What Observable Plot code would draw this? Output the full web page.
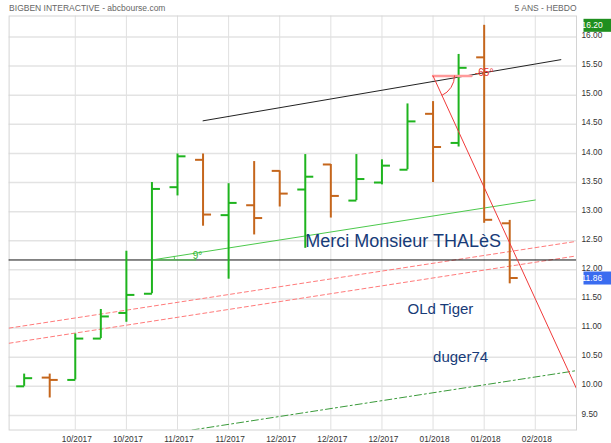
<!DOCTYPE html>
<html><head><meta charset="utf-8">
<script src="https://cdn.jsdelivr.net/npm/d3@7"></script>
<script src="https://cdn.jsdelivr.net/npm/@observablehq/plot@0.6"></script>
<style>body{margin:0;background:#fff}</style>
</head><body><div id="chart"></div>
<script>
// ---- weekly OHLC data (week ending dates) ----
const barDates = ["2017-09-22","2017-09-29","2017-10-06","2017-10-13","2017-10-20","2017-10-27","2017-11-03","2017-11-10","2017-11-17","2017-11-24","2017-12-01","2017-12-08","2017-12-15","2017-12-22","2017-12-29","2018-01-05","2018-01-12","2018-01-19","2018-01-26","2018-02-02"];
const opens  = [10.00,10.15,10.11,10.82,11.26,11.59,13.42,13.89,12.94,13.11,13.70,13.38,13.81,13.19,13.50,13.72,14.68,14.18,15.65,12.80];
const highs  = [10.21,10.21,10.90,11.32,12.32,13.50,13.99,13.99,13.48,13.86,13.70,13.98,13.81,13.98,13.89,14.85,14.89,15.70,16.20,12.85];
const lows   = [10.00, 9.80,10.11,10.82,11.10,11.59,13.27,12.75,11.84,12.60,13.08,12.37,12.89,13.19,13.46,13.72,13.50,14.11,12.80,11.76];
const closes = [10.14,10.11,10.82,11.20,11.57,13.39,13.95,12.95,13.15,12.89,13.31,13.60,13.27,13.56,13.79,14.55,14.11,15.47,12.86,11.86];

// ---- axes ----
const xDomain = ["2017-09-17T21:00Z","2018-02-20T07:00Z"];
const xTicks = ["2017-10-06","2017-10-20","2017-11-03","2017-11-17","2017-12-01","2017-12-15","2017-12-29","2018-01-12","2018-01-26","2018-02-09"];
const yDomain = [9.25, 16.36];
const yTicks = [9.5,10,10.5,11,11.5,12,12.5,13,13.5,14,14.5,15,15.5,16];
const highLabel = 16.20;
const lastLabel = 11.86;

// ---- drawn annotations (date, price) ----
const hLineValue = 12.17;
const blackTrend = [["2017-11-10",14.56],["2018-02-16",15.61]];
const redAngleLine = [["2018-01-12",15.33],["2018-02-20T07:00Z",9.96]];
const redAngleBase = [["2018-01-12",15.33],["2018-01-22T12:00Z",15.33]];
const greenAngleLine = [["2017-10-27",12.17],["2018-02-09",13.20]];
const greenAngleBase = [["2017-10-27",12.17],["2017-11-08",12.17]];
const redDashUpper = [["2017-09-17T21:00Z",11.00],["2018-02-20T07:00Z",12.49]];
const redDashLower = [["2017-09-17T21:00Z",10.74],["2018-02-20T07:00Z",12.24]];
const greenDashDot = [["2017-11-07",9.25],["2018-02-20T07:00Z",10.27]];
const angleLabels = [["2018-01-26",15.38,"-65°","#e8302a"],["2017-11-08T12:00Z",12.25,"9°","#33b833"]];
const notes = [["2017-12-08",12.50,"Merci Monsieur THALèS",18],["2018-01-05",11.33,"OLd Tiger",15],["2018-01-12",10.50,"duger74",15]];

const GREEN = "#1eb41e", ORANGE = "#c5661c";
const bars = barDates.map((d,i) => ({date: new Date(d), open: opens[i], high: highs[i], low: lows[i], close: closes[i],
  color: closes[i] >= opens[i] ? GREEN : ORANGE}));
const pts = arr => arr.map(([d,v]) => ({date: new Date(d), value: v}));

const leftTick = {draw(ctx){ ctx.moveTo(-8,0); ctx.lineTo(0,0); }};
const rightTick = {draw(ctx){ ctx.moveTo(0,0); ctx.lineTo(8,0); }};

function seg(arr, opts) {
  return Plot.line(pts(arr), {x: "date", y: "value", clip: true, ...opts});
}
function angleArc(lineArr, radius, color) {
  const [v, t] = pts(lineArr);
  return Plot.dot([v], {x: "date", y: "value", render(index, scales) {
    const cx = scales.x(v.date), cy = scales.y(v.value);
    const tx = scales.x(t.date), ty = scales.y(t.value);
    const a = Math.atan2(ty - cy, tx - cx);
    const x2 = cx + radius*Math.cos(a), y2 = cy + radius*Math.sin(a);
    const sweep = a > 0 ? 1 : 0;
    return d3.create("svg:path")
      .attr("d", `M${cx+radius},${cy}A${radius},${radius} 0 0 ${sweep} ${x2},${y2}`)
      .attr("fill","none").attr("stroke",color).attr("stroke-width",1).node();
  }});
}
function priceBox(value, bg) {
  return Plot.text([value], {
    y: d => d, text: d => d.toFixed(2), frameAnchor: "right", textAnchor: "start", dx: 5,
    fill: "white", fontSize: 8.5,
    render(index, scales, values, dimensions, context, next) {
      const g = next(index, scales, values, dimensions, context);
      const x0 = dimensions.width - dimensions.marginRight + 2;
      const y = values.y[index[0]];
      d3.select(g).insert("rect", ":first-child")
        .attr("x", x0).attr("y", y - 6.5).attr("width", 31).attr("height", 13).attr("fill", bg);
      return g;
    }
  });
}

const chart = Plot.plot({
  width: 611, height: 443,
  marginLeft: 8.6, marginRight: 35, marginTop: 15.5, marginBottom: 13.5,
  x: {type: "utc", domain: xDomain.map(d => new Date(d)), axis: null},
  y: {domain: yDomain, axis: null},
  color: {type: "identity"},
  style: {fontFamily: "'Liberation Sans', Arial, sans-serif", background: "white", overflow: "visible"},
  marks: [
    Plot.gridY(yTicks, {stroke: "#e3e3e3", strokeOpacity: 1, strokeWidth: 1.5}),
    Plot.gridX(xTicks.map(d => new Date(d)), {stroke: "#e0e0e0", strokeOpacity: 1}),
    Plot.frame({stroke: "#d4d4d4"}),
    Plot.axisY(yTicks, {anchor: "right", tickSize: 0, tickPadding: 5, dy: -1.5,
      tickFormat: d => d.toFixed(2), fontSize: 8.3, fill: "#333"}),
    Plot.axisX(xTicks.map(d => new Date(d)), {anchor: "bottom", tickSize: 0, tickPadding: 6, dx: 1.5,
      tickFormat: d3.utcFormat("%m/%Y"), fontSize: 8.3, fill: "#333"}),
    Plot.text(["BIGBEN INTERACTIVE - abcbourse.com"], {text: d => d, frameAnchor: "top-left", textAnchor: "start",
      lineAnchor: "middle", dy: -8, fontSize: 8.5, fill: "#666"}),
    Plot.text(["5 ANS - HEBDO"], {text: d => d, frameAnchor: "top-right", textAnchor: "end",
      lineAnchor: "middle", dy: -8, fontSize: 8.5, fill: "#666"}),
    // annotations
    seg(redDashUpper, {stroke: "#ff7a7a", strokeWidth: 1, strokeDasharray: "4,3"}),
    seg(redDashLower, {stroke: "#ff7a7a", strokeWidth: 1, strokeDasharray: "4,3"}),
    seg(greenDashDot, {stroke: "#3a9a3a", strokeWidth: 1, strokeDasharray: "7,3,2,3"}),
    Plot.ruleY([hLineValue], {stroke: "#111", strokeWidth: 1}),
    seg(greenAngleLine, {stroke: "#4cc94c", strokeWidth: 1}),
    seg(greenAngleBase, {stroke: "#4cc94c", strokeWidth: 1}),
    angleArc(greenAngleLine, 23, "#4cc94c"),
    seg(blackTrend, {stroke: "#222", strokeWidth: 1}),
    // OHLC bars
    Plot.ruleX(bars, {x: "date", y1: "low", y2: "high", stroke: "color", strokeWidth: 2}),
    Plot.dot(bars, {x: "date", y: "open", symbol: leftTick, stroke: "color", strokeWidth: 2, fill: "none"}),
    Plot.dot(bars, {x: "date", y: "close", symbol: rightTick, stroke: "color", strokeWidth: 2, fill: "none"}),
    // red angle tool
    seg(redAngleBase, {stroke: "#ff9a9a", strokeWidth: 2.5}),
    seg(redAngleLine, {stroke: "#f03a3a", strokeWidth: 1}),
    angleArc(redAngleLine, 22, "#f03a3a"),
    Plot.text(angleLabels, {x: d => new Date(d[0]), y: d => d[1], text: d => d[2], fill: d => d[3], fontSize: 10}),
    Plot.text(notes, {x: d => new Date(d[0]), y: d => d[1], text: d => d[2], fontSize: d => d[3],
      textAnchor: "start", fill: "#173b78"}),
    priceBox(highLabel, "#1f8f1f"),
    priceBox(lastLabel, "#3a6cf0")
  ]
});
document.getElementById("chart").append(chart);
</script>
</body></html>
